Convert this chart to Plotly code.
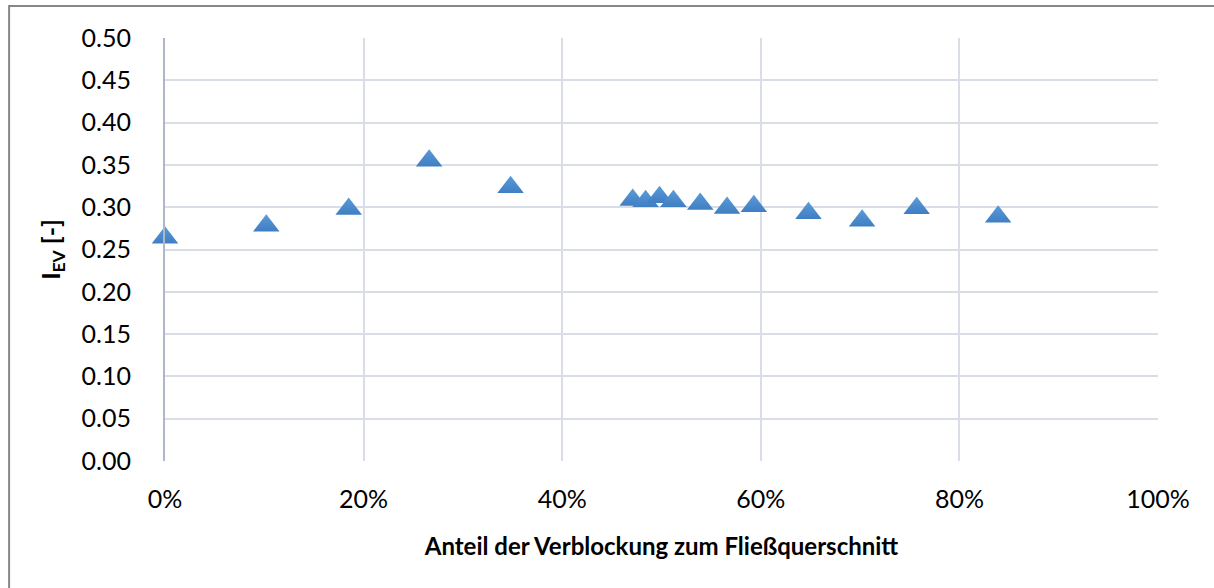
import plotly.graph_objects as go

# Share of blockage relative to the flow cross-section (fraction) and index I_EV
blockage_share = [0.000, 0.102, 0.185, 0.266, 0.348, 0.471, 0.484, 0.498, 0.512,
                  0.539, 0.566, 0.593, 0.648, 0.702, 0.757, 0.839]
i_ev = [0.264, 0.278, 0.298, 0.355, 0.3235, 0.3085, 0.307, 0.3117, 0.307,
        0.3038, 0.299, 0.301, 0.2928, 0.284, 0.2987, 0.2888]

x_ticks = [0, 0.2, 0.4, 0.6, 0.8, 1.0]
y_ticks = [round(0.05 * k, 2) for k in range(11)]

font_family = "Lato, 'Open Sans', sans-serif"
grid_color = "#D9DDE5"

fig = go.Figure()
fig.add_trace(go.Scatter(
    x=blockage_share,
    y=i_ev,
    mode="markers",
    marker=dict(
        symbol="triangle-up",
        size=23,
        color="#5A9BD8",
        gradient=dict(type="vertical", color="#3F7EC2"),
        line=dict(width=0),
    ),
    cliponaxis=False,
    hoverinfo="skip",
    showlegend=False,
))

fig.update_layout(
    width=1214,
    height=588,
    margin=dict(l=165, r=56, t=38, b=127),
    paper_bgcolor="white",
    plot_bgcolor="white",
    font=dict(family=font_family, size=25, color="#000000"),
    shapes=[
        # outer chart frame
        dict(type="rect", xref="paper", yref="paper",
             x0=-0.157, x1=1.2, y0=-0.35, y1=1.0757,
             line=dict(color="#878787", width=2), fillcolor="rgba(0,0,0,0)",
             layer="below"),
    ],
)

fig.update_xaxes(
    range=[0, 1.0],
    tickvals=x_ticks,
    tickformat=".0%",
    showgrid=True,
    gridcolor=grid_color,
    gridwidth=2,
    zeroline=False,
    showline=False,
    ticks="",
    ticklabelstandoff=21,
    tickfont=dict(size=25),
    title=dict(text="<b>Anteil der Verblockung zum Fließquerschnitt</b>",
               font=dict(size=24), standoff=26),
)

fig.update_yaxes(
    range=[0, 0.5],
    tickvals=y_ticks,
    tickformat=".2f",
    showgrid=True,
    gridcolor=grid_color,
    gridwidth=2,
    zeroline=False,
    showline=True,
    linecolor="#AEB6C8",
    linewidth=2,
    ticks="",
    ticklabelstandoff=27,
    tickfont=dict(size=25),
    title=dict(text="<b>I<sub>EV</sub> [-]</b>", font=dict(size=25), standoff=14),
)

fig.write_html("out.html")
